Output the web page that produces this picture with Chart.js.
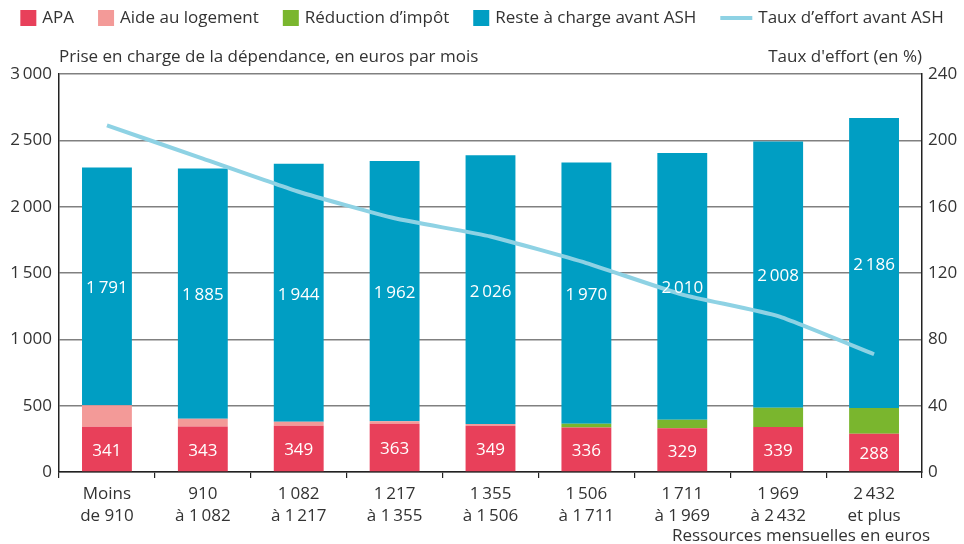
<!DOCTYPE html>
<html>
<head>
<meta charset="utf-8">
<script src="https://cdn.jsdelivr.net/npm/chart.js@4.4.0/dist/chart.umd.min.js"></script>
<style>
  html, body { margin: 0; padding: 0; background: #fff; }
  #wrap { width: 964px; height: 544px; position: relative; }
</style>
</head>
<body>
<div id="wrap"><canvas id="chart"></canvas></div>
<script>
// Données
const categories = [
    ['Moins', 'de 910'],
    ['910', 'à 1\u2009082'],
    ['1\u2009082', 'à 1\u2009217'],
    ['1\u2009217', 'à 1\u2009355'],
    ['1\u2009355', 'à 1\u2009506'],
    ['1\u2009506', 'à 1\u2009711'],
    ['1\u2009711', 'à 1\u2009969'],
    ['1\u2009969', 'à 2\u2009432'],
    ['2\u2009432', 'et plus']
];
const apa = [341, 343, 349, 363, 349, 336, 329, 339, 288];
const aideLogement = [163, 59, 30, 19, 12, 0, 0, 0, 0];
const reductionImpot = [0, 0, 0, 0, 0, 27, 65, 145, 195];
const resteACharge = [1791, 1885, 1944, 1962, 2026, 1970, 2010, 2008, 2186];
const tauxEffort = [209, 189, 169, 153, 142, 126, 107, 94, 71];
const leftTicks = [0, 500, 1000, 1500, 2000, 2500, 3000];
const rightTicks = [0, 40, 80, 120, 160, 200, 240];

const FONT = "'Open Sans', 'Liberation Sans', sans-serif";
const TEXT = '#333333';

function fmt(v) {
    return String(v).replace(/\B(?=(\d{3})+(?!\d))/g, '\u2009');
}

Chart.defaults.font.family = FONT;
Chart.defaults.font.size = 17;
Chart.defaults.color = TEXT;

// Légende, titres d'axes et étiquettes de valeurs
const decorPlugin = {
    id: 'decor',
    afterDatasetsDraw(chart) {
        const ctx = chart.ctx;
        const area = chart.chartArea;

        // étiquettes dans les barres
        ctx.save();
        ctx.font = '17px ' + FONT;
        ctx.fillStyle = '#ffffff';
        ctx.textAlign = 'center';
        ctx.textBaseline = 'middle';
        [0, 3].forEach(i => {
            const meta = chart.getDatasetMeta(i);
            meta.data.forEach((bar, j) => {
                const v = chart.data.datasets[i].data[j];
                ctx.fillText(fmt(v), bar.x, (bar.y + bar.base) / 2 + 2);
            });
        });
        ctx.restore();

        // titres d'axes
        ctx.save();
        ctx.font = '17px ' + FONT;
        ctx.fillStyle = TEXT;
        ctx.textBaseline = 'alphabetic';
        ctx.textAlign = 'left';
        ctx.fillText('Prise en charge de la dépendance, en euros par mois', area.left, 62);
        ctx.textAlign = 'right';
        ctx.fillText("Taux d'effort (en %)", area.right, 62);
        ctx.fillText('Ressources mensuelles en euros', 930, 541);
        ctx.restore();

        // légende
        ctx.save();
        ctx.font = '17px ' + FONT;
        ctx.textBaseline = 'middle';
        ctx.textAlign = 'left';
        const items = chart.data.datasets.map(ds => ({
            label: ds.label,
            color: ds.type === 'line' ? ds.borderColor : ds.backgroundColor,
            isLine: ds.type === 'line'
        }));
        const box = 16, gap = 6, spacing = 24, lineLen = 32;
        let total = 0;
        items.forEach((it, k) => {
            total += (it.isLine ? lineLen : box) + gap + ctx.measureText(it.label).width;
            if (k < items.length - 1) total += spacing;
        });
        let x = (chart.width - total) / 2;
        const cy = 18;
        items.forEach(it => {
            if (it.isLine) {
                ctx.strokeStyle = it.color;
                ctx.lineWidth = 4;
                ctx.beginPath();
                ctx.moveTo(x, cy);
                ctx.lineTo(x + lineLen, cy);
                ctx.stroke();
                x += lineLen;
            } else {
                ctx.fillStyle = it.color;
                ctx.fillRect(x, cy - box / 2, box, box);
                x += box;
            }
            x += gap;
            ctx.fillStyle = TEXT;
            ctx.fillText(it.label, x, cy);
            x += ctx.measureText(it.label).width + spacing;
        });
        ctx.restore();
    }
};

const ctx = document.getElementById('chart').getContext('2d');
const myChart = new Chart(ctx, {
    type: 'bar',
    data: {
        labels: categories,
        datasets: [
            {
                label: 'APA',
                data: apa,
                backgroundColor: '#e8405a',
                yAxisID: 'y',
                order: 1
            },
            {
                label: 'Aide au logement',
                data: aideLogement,
                backgroundColor: '#f39a98',
                yAxisID: 'y',
                order: 1
            },
            {
                label: 'Réduction d\u2019impôt',
                data: reductionImpot,
                backgroundColor: '#7ab62e',
                yAxisID: 'y',
                order: 1
            },
            {
                label: 'Reste à charge avant ASH',
                data: resteACharge,
                backgroundColor: '#009ec3',
                yAxisID: 'y',
                order: 1
            },
            {
                type: 'line',
                label: 'Taux d\u2019effort avant ASH',
                data: tauxEffort,
                borderColor: '#8ed2e4',
                backgroundColor: '#8ed2e4',
                borderWidth: 4,
                pointRadius: 0,
                tension: 0.15,
                fill: false,
                yAxisID: 'y1',
                order: 0
            }
        ]
    },
    options: {
        responsive: true,
        maintainAspectRatio: false,
        animation: false,
        devicePixelRatio: 1,
        layout: {
            padding: { top: 74, left: 0, right: 0, bottom: 0 }
        },
        datasets: {
            bar: {
                barPercentage: 1,
                categoryPercentage: 0.52
            }
        },
        plugins: {
            legend: { display: false },
            tooltip: { enabled: false }
        },
        scales: {
            x: {
                stacked: true,
                border: { display: true, color: '#222', width: 1.5 },
                grid: {
                    display: true,
                    drawOnChartArea: false,
                    drawTicks: true,
                    tickLength: 6,
                    offset: true,
                    color: '#222',
                    lineWidth: 1.2
                },
                ticks: {
                    padding: 6,
                    maxRotation: 0,
                    autoSkip: false,
                    font: { size: 17, lineHeight: 1.25 },
                    color: TEXT
                },
                afterFit(scale) { scale.height = 72; }
            },
            y: {
                stacked: true,
                position: 'left',
                min: 0,
                max: 3000,
                border: { display: true, color: '#222', width: 1.5 },
                grid: {
                    color: '#808080',
                    lineWidth: 1.5,
                    drawTicks: false
                },
                afterBuildTicks(scale) {
                    scale.ticks = leftTicks.map(v => ({ value: v }));
                },
                ticks: {
                    padding: 7,
                    color: TEXT,
                    font: { size: 17 },
                    callback: v => fmt(v)
                },
                afterFit(scale) { scale.width = 59; }
            },
            y1: {
                position: 'right',
                min: 0,
                max: 240,
                border: { display: true, color: '#222', width: 1.5 },
                grid: { drawOnChartArea: false, drawTicks: false },
                afterBuildTicks(scale) {
                    scale.ticks = rightTicks.map(v => ({ value: v }));
                },
                ticks: {
                    padding: 6,
                    color: TEXT,
                    font: { size: 17 }
                },
                afterFit(scale) { scale.width = 42; }
            }
        }
    },
    plugins: [decorPlugin]
});
</script>
</body>
</html>
